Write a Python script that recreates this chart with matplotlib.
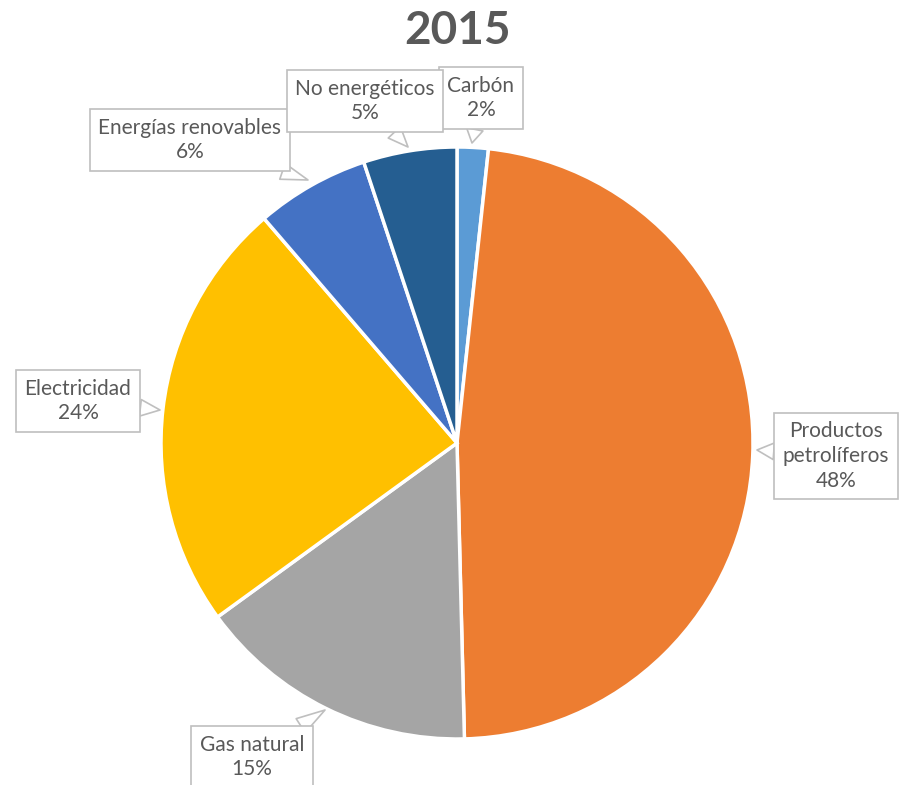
import matplotlib
matplotlib.use('Agg')
import matplotlib.pyplot as plt

# datos 2015
categorias = ['Carbón', 'Productos\npetrolíferos', 'Gas natural', 'Electricidad',
              'Energías renovables', 'No energéticos']
valores = [1.7, 47.9, 15.4, 23.7, 6.2, 5.1]
colores = ['#5B9BD5', '#ED7D31', '#A5A5A5', '#FFC000', '#4472C4', '#255E91']

# posicion de cada etiqueta (centro de la caja, en px de la imagen)
pos_etiquetas = [(481, 98), (836, 456), (252, 757), (78, 401), (190, 140), (365, 101)]
pos_puntas = [(472, 143), (757, 450), (325, 710), (160, 410), (308, 180), (408, 147)]

CX, CY, R = 457, 443, 296


def px2data(p):
    return ((p[0] - CX) / R, (CY - p[1]) / R)


plt.rcParams['font.family'] = ['Lato', 'DejaVu Sans']

fig = plt.figure(figsize=(9, 7.85), dpi=100)
ax = fig.add_axes([(CX - R) / 900, (785 - CY - R) / 785, 2 * R / 900, 2 * R / 785])

ax.pie(valores, colors=colores, startangle=90, counterclock=False, radius=1,
       wedgeprops={'edgecolor': 'white', 'linewidth': 2.5})
ax.set_xlim(-1, 1)
ax.set_ylim(-1, 1)
ax.axis('off')

for i, cat in enumerate(categorias):
    texto = '%s\n%d%%' % (cat, round(valores[i]))
    ax.annotate(texto, xy=px2data(pos_puntas[i]), xytext=px2data(pos_etiquetas[i]),
                ha='center', va='center', fontsize=15, color='#595959',
                linespacing=1.3, annotation_clip=False,
                bbox=dict(boxstyle='square,pad=0.4', fc='white', ec='#BFBFBF', lw=1.2),
                arrowprops=dict(arrowstyle='wedge,tail_width=0.8', fc='white',
                                ec='#BFBFBF', lw=1.2, shrinkA=0, shrinkB=0))

fig.text(457 / 900, 1 - 31 / 785, '2015', ha='center', va='center',
         fontsize=33, fontweight='bold', color='#595959')

fig.savefig('out.png', dpi=100, facecolor='white')
